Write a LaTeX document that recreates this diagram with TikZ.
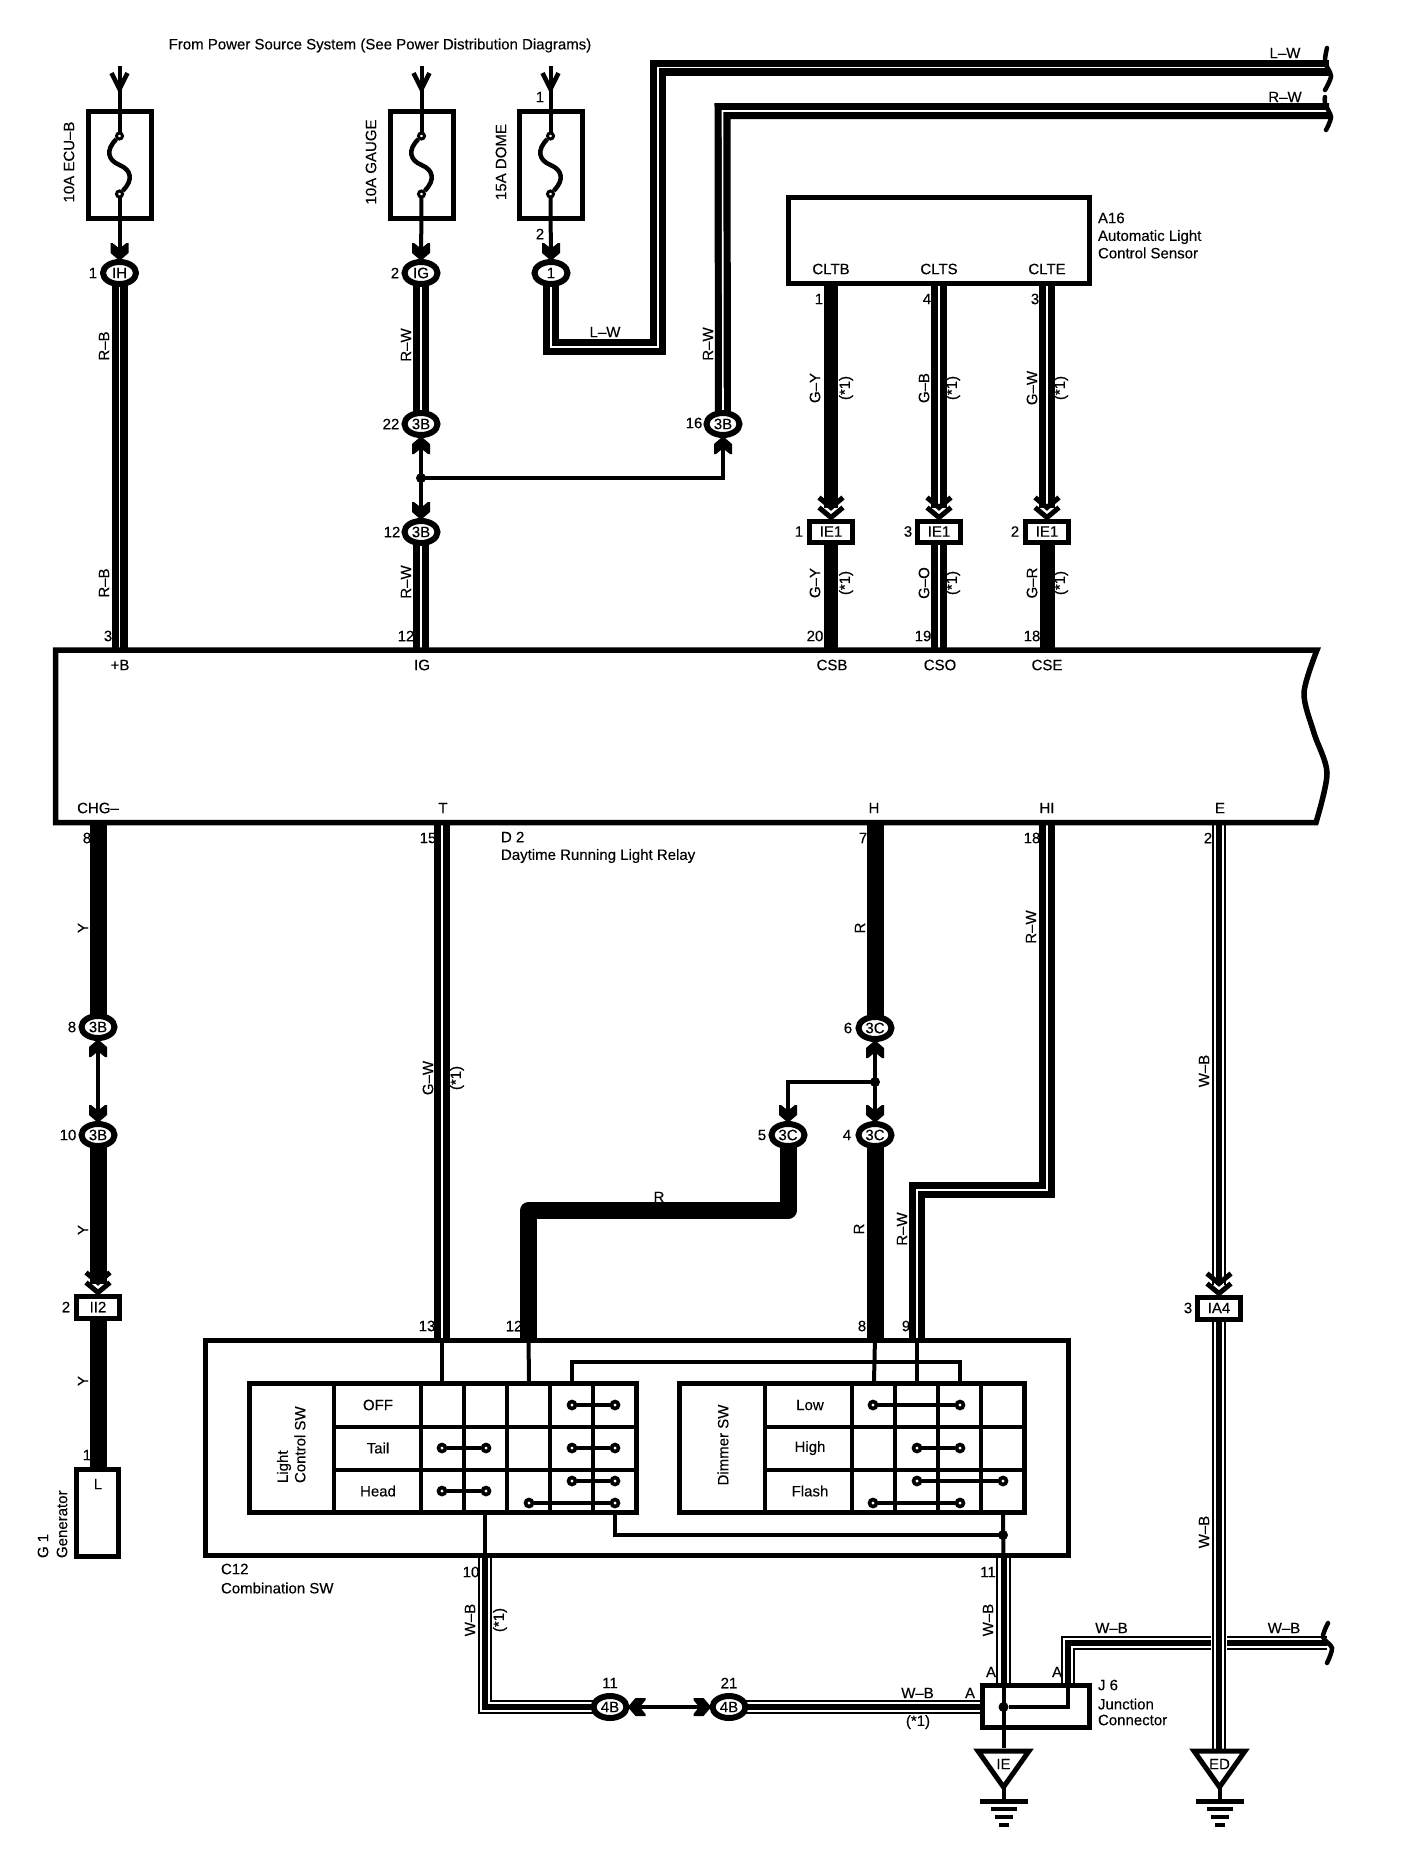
\documentclass[tikz,border=0pt]{standalone}
\usepackage{fontspec}
\setmainfont{Liberation Sans}[FakeBold=0.25]
\usetikzlibrary{shapes.geometric,backgrounds}
\newcommand\triw[1]{\draw[line width=14.5pt] #1; \draw[line width=10.5pt,white] #1; \draw[line width=6pt] #1;}
\tikzset{
  lbl/.style={font=\fontsize{15}{15}\selectfont,inner sep=0pt,outer sep=0pt,text=black},
  vlbl/.style={lbl,rotate=90},
  oval/.style={ellipse,draw,fill=white,line width=6pt,minimum width=33pt,minimum height=22pt,inner sep=0pt,font=\fontsize{15}{15}\selectfont},
  rectcon/.style={rectangle,draw,fill=white,line width=5pt,minimum width=43pt,minimum height=21pt,inner sep=0pt,font=\fontsize{15}{15}\selectfont},
  heavybox/.style={rectangle,draw,line width=5pt,inner sep=0pt},
  stripe/.style={line width=7.2pt,double=white,double distance=1.6pt,line join=miter},
  solidw/.style={line width=#1,line join=round},
  thinw/.style={line width=4pt},
  contact/.style={circle,draw,fill=white,line width=3.6pt,minimum size=7pt,inner sep=0pt},
  jdot/.style={circle,fill=black,minimum size=11pt,inner sep=0pt},
  blk/.pic={\fill (-9,-16)--(-7,-16)--(-2,-12)--(2,-12)--(7,-16)--(9,-16)--(9,-6)--(2,0)--(-2,0)--(-9,-6)--cycle;},
  chev/.pic={\draw[line width=5pt] (-12,-21)--(0,-11)--(12,-21) (-12,-11)--(0,-1)--(12,-11);},
  vhead/.pic={\draw[line width=4.5pt] (-8,-16)--(0,0)--(8,-16);},
  gnd/.pic={
    \draw[line width=5pt,line join=miter] (-25.5,3)--(25.5,3)--(0,39)--cycle;
    \draw[thinw] (0,39)--(0,53);
    \fill (-24,51) rectangle (24,56);
    \fill (-13,59) rectangle (13,63);
    \fill (-9,67) rectangle (9,71);
    \fill (-5,75) rectangle (5,79);
  },
  wbrace/.style={line width=4.5pt,line cap=round}
}
\begin{document}
\begin{tikzpicture}[x=1pt,y=-1pt]
\useasboundingbox (0,0) rectangle (1408,1856);

% ---------- relay box
\draw[line width=5.5pt,fill=white,line join=miter] (55.5,650) -- (1317,650)
   -- plot[smooth] coordinates {(1317,650) (1304,693) (1314,733) (1327,773) (1316,822.5)}
   -- (55.5,822.5) -- cycle;

% pins on the relay box
\coordinate (pB) at (119.5,650);  \coordinate (pIG) at (421,650);
\coordinate (pCSB) at (831,650);  \coordinate (pCSO) at (939,650); \coordinate (pCSE) at (1047,650);
\coordinate (pCHG) at (98,822.5); \coordinate (pT) at (442,822.5); \coordinate (pH) at (875,822.5);
\coordinate (pHI) at (1047,822.5);\coordinate (pE) at (1219,822.5);

% ---------- fuses
\node[heavybox,minimum width=63pt,minimum height=107pt] (fa) at (119.5,165) {};
\node[heavybox,minimum width=63pt,minimum height=107pt] (fb) at (421.5,165) {};
\node[heavybox,minimum width=63pt,minimum height=107pt] (fc) at (550.5,165) {};

% ---------- sensor, generator, combination switch, junction
\node[heavybox,minimum width=300.5pt,minimum height=86pt] (sens) at (938.75,240.5) {};
\node[heavybox,minimum width=42pt,minimum height=87pt] (gen) at (97.5,1513) {};
\node[heavybox,minimum width=863pt,minimum height=215pt] (comb) at (637,1448) {};
\node[heavybox,minimum width=107pt,minimum height=42pt] (jc) at (1035.5,1706.5) {};

% ---------- connectors
\node[oval] (cIH) at (119.5,273) {IH};
\node[oval] (cIG) at (421,273) {IG};
\node[oval] (cOne) at (551,273) {1};
\node[oval] (c22) at (421,424) {3B};
\node[oval] (c12) at (421,532) {3B};
\node[oval] (c16) at (723,424) {3B};
\node[rectcon] (cIEa) at (831,531.5) {IE1};
\node[rectcon] (cIEb) at (939,531.5) {IE1};
\node[rectcon] (cIEc) at (1047,531.5) {IE1};
\node[oval] (c8) at (98,1027) {3B};
\node[oval] (c10) at (98,1135) {3B};
\node[rectcon,minimum height=22pt] (cII) at (98,1307) {II2};
\node[oval] (c6) at (875,1028) {3C};
\node[oval] (c5) at (788,1135) {3C};
\node[oval] (c4) at (875,1135) {3C};
\node[oval] (c11) at (610,1707) {4B};
\node[oval] (c21) at (729,1707) {4B};
\node[rectcon,minimum height=22pt] (cIA) at (1219,1308) {IA4};

% bends and free ends
\coordinate (ta) at (119.5,66); \coordinate (tb) at (421.5,66); \coordinate (tc) at (550.5,66);
\coordinate (lwa) at (551,347); \coordinate (lwb) at (658,347); \coordinate (lwc) at (658,67.5); \coordinate (lwd) at (1329,67.5);
\coordinate (rwa) at (722.5,111); \coordinate (rwb) at (1329,111);
\coordinate (sa) at (831,286); \coordinate (sb) at (939,286); \coordinate (sc) at (1047,286);
\coordinate (ea) at (831,508); \coordinate (eb) at (939,508); \coordinate (ec) at (1047,508);
\coordinate (yend) at (98,1284); \coordinate (ygen) at (98,1470);
\coordinate (ra) at (788,1210.5); \coordinate (rb) at (528.5,1210.5); \coordinate (rc) at (528.5,1338);
\coordinate (r4) at (875,1338);
\coordinate (hia) at (1047,1190); \coordinate (hib) at (917,1190); \coordinate (hic) at (917,1338);
\coordinate (tc13) at (442,1338);
\coordinate (wa) at (485,1558); \coordinate (wb) at (485,1707); \coordinate (wc) at (1003.5,1558);
\coordinate (wd) at (1003.5,1683); \coordinate (we) at (982,1707);
\coordinate (xa) at (1068,1683); \coordinate (xb) at (1068,1643); \coordinate (xc) at (1211,1643);
\coordinate (xd) at (1227,1643); \coordinate (xe) at (1327,1643);
\coordinate (ia) at (1219,1285); \coordinate (ib) at (1219,1752);
\coordinate (ja) at (421,478); \coordinate (jb) at (875,1082);
\coordinate (jc1) at (723,478); \coordinate (jc2) at (788,1082);
\coordinate (ga) at (1003.5,1748); \coordinate (gb) at (1219.5,1748);

% ---------- wires behind the connectors
\begin{scope}[on background layer]
  \draw[stripe] (cIH.center) -- (pB);
  \draw[stripe] (cIG.center) -- (c22.center);
  \draw[stripe] (c12.center) -- (pIG);
  \draw[stripe] (cOne.center) -- (lwa) -- (lwb) -- (lwc) -- (lwd);
  \draw[stripe] (c16.center) -- (rwa) -- (rwb);
  \draw[solidw=14pt] (sa) -- (ea);
  \draw[stripe] (sb) -- (eb);
  \draw[stripe] (sc) -- (ec);
  \draw[solidw=14pt] (cIEa.center) -- (pCSB);
  \draw[stripe] (cIEb.center) -- (pCSO);
  \draw[solidw=15pt] (cIEc.center) -- (pCSE);
  \draw[solidw=17pt] (pCHG) -- (c8.center);
  \draw[solidw=17pt] (c10.center) -- (yend);
  \draw[solidw=17pt] (cII.center) -- (ygen);
  \draw[stripe] (pT) -- (tc13);
  \draw[solidw=17pt] (pH) -- (c6.center);
  \draw[solidw=17pt] (c4.center) -- (r4);
  \draw[solidw=17pt] (c5.center) -- (ra) -- (rb) -- (rc);
  \draw[stripe] (pHI) -- (hia) -- (hib) -- (hic);
  \triw{(pE) -- (ia)}
  \triw{(cIA.center) -- (ib)}
  \triw{(wa) -- (wb) -- (c11.center)}
  \triw{(c21.center) -- (we)}
  \triw{(wc) -- (wd)}
  \triw{(xa) -- (xb) -- (xc)}
  \triw{(xd) -- (xe)}
  % thin links
  \draw[thinw] (c8.center) -- (c10.center);
  \draw[thinw] (c22.center) -- (c12.center);
  \draw[thinw] (ja) -- (jc1) -- (c16.center);
  \draw[thinw] (c6.center) -- (c4.center);
  \draw[thinw] (jb) -- (jc2) -- (c5.center);
  \draw[thinw] (c11.center) -- (c21.center);
\end{scope}

% ---------- fuse elements
\foreach \n/\x/\c in {a/119.5/cIH,b/421.5/cIG,c/550.5/cOne}{
  \node[contact,minimum size=6pt,line width=3pt] (fu\n) at (\x,136) {};
  \node[contact,minimum size=6pt,line width=3pt] (fl\n) at (\x,194) {};
  \begin{scope}[on background layer]
    \draw[thinw] (t\n) -- (fu\n.center);
    \draw[thinw] (fl\n.center) -- (\c.center);
  \end{scope}
  \draw[line width=4.5pt] (fu\n.south west) .. controls (\x-14,150) and (\x-12,160) .. (\x,165)
       .. controls (\x+12,170) and (\x+14,180) .. (fl\n.north east);
  \pic at (\x,89) {vhead};
}
\pic at (cIH.north) {blk};
\pic at (cIG.north) {blk};
\pic at (cOne.north) {blk};
\pic[rotate=180] at (c22.south) {blk};
\pic at (c12.north) {blk};
\pic[rotate=180] at (c16.south) {blk};
\pic[rotate=180] at (c8.south) {blk};
\pic at (c10.north) {blk};
\pic[rotate=180] at (c6.south) {blk};
\pic at (c4.north) {blk};
\pic at (c5.north) {blk};
\pic[rotate=-90] at (c11.east) {blk};
\pic[rotate=90] at (c21.west) {blk};
\pic at (cIEa.north) {chev};
\pic at (cIEb.north) {chev};
\pic at (cIEc.north) {chev};
\pic at (cII.north) {chev};
\pic at (cIA.north) {chev};

\node[jdot,minimum size=10pt] (da) at (ja) {};
\node[jdot,minimum size=10pt] (db) at (jb) {};

% ---------- switch tables
\node[heavybox,minimum width=387pt,minimum height=129.5pt] (tl) at (442.5,1447.75) {};
\node[heavybox,minimum width=345pt,minimum height=129.5pt] (tr) at (852,1447.75) {};
\foreach \x in {334,421,464,507,550,593}{\draw[thinw] (\x,1383) -- (\x,1512.5);}
\draw[thinw] (334,1427) -- (636,1427);
\draw[thinw] (334,1470) -- (636,1470);
\foreach \x in {765,852,895,938,981}{\draw[thinw] (\x,1383) -- (\x,1512.5);}
\draw[thinw] (765,1427) -- (1024.5,1427);
\draw[thinw] (765,1470) -- (1024.5,1470);

% contacts
\foreach \n/\xa/\xb/\y in {k/572/615/1405,m/442/486/1448,n/572/615/1448,o/442/486/1491,q/572/615/1481,r/529/615/1503,
   s/873/960/1405,u/917/960/1448,v/917/1003/1481,w/873/960/1503}{
  \node[contact] (ct\n a) at (\xa,\y) {};
  \node[contact] (ct\n b) at (\xb,\y) {};
  \draw[thinw] (ct\n a) -- (ct\n b);
}

% links inside the combination switch
\coordinate (la) at (442,1381); \coordinate (lb) at (529,1381); \coordinate (lc) at (572,1381);
\coordinate (ld) at (572,1362); \coordinate (le) at (960,1362); \coordinate (lf) at (960,1381);
\coordinate (lg) at (874,1381); \coordinate (lh) at (917,1381);
\coordinate (li) at (485,1515); \coordinate (lj) at (615,1515); \coordinate (lk) at (615,1535);
\coordinate (ll) at (1003,1535); \coordinate (lm) at (1003,1515);
\draw[thinw] (tc13) -- (la);
\draw[thinw] (rc) -- (lb);
\draw[thinw] (r4) -- (lg);
\draw[thinw] (hic) -- (lh);
\draw[thinw] (lc) -- (ld) -- (le) -- (lf);
\draw[thinw] (li) -- (wa);
\draw[thinw] (lj) -- (lk) -- (ll);
\draw[thinw] (lm) -- (wc);
\node[jdot,minimum size=10pt] (dc) at (ll) {};

% junction connector inside
\draw[thinw] (wd) -- (ga);
\node[jdot,minimum size=10pt] (dd) at (1003.5,1707) {};
\draw[thinw] (dd) -- (1068,1707) -- (xa);

% grounds
\pic at (ga) {gnd};
\pic at (gb) {gnd};
\node[lbl] (nIE) at (1003.5,1764) {IE};
\node[lbl] (nED) at (1219.5,1764) {ED};

% break symbols
\draw[wbrace] plot[smooth] coordinates {(1327,48) (1325,62) (1331,76) (1325,90)};
\draw[wbrace] plot[smooth] coordinates {(1325,97) (1325,104) (1331,117) (1326,130)};
\draw[wbrace] plot[smooth] coordinates {(1328,1623) (1323,1637) (1332,1648) (1327,1663)};

% ---------- texts
\node[lbl] (title) at (380,45.5) {From Power Source System (See Power Distribution Diagrams)};
\node[vlbl] (ta1) at (69,162) {10A ECU–B};
\node[vlbl] (ta2) at (371,162) {10A GAUGE};
\node[vlbl] (ta3) at (501,162) {15A DOME};
\node[lbl] (n01) at (540,97) {1};
\node[lbl] (n02) at (540,234) {2};
\node[lbl] (n03) at (93,273) {1};
\node[lbl] (n04) at (395,273) {2};
\node[lbl] (n05) at (391,424) {22};
\node[lbl] (n06) at (392,532) {12};
\node[lbl] (n07) at (694,423) {16};
\node[vlbl] (w01) at (104,346) {R–B};
\node[vlbl] (w02) at (104,583) {R–B};
\node[vlbl] (w03) at (406,345) {R–W};
\node[vlbl] (w04) at (406,582) {R–W};
\node[vlbl] (w05) at (708,344) {R–W};
\node[lbl] (w06) at (605,332) {L–W};
\node[lbl] (w07) at (1285,53) {L–W};
\node[lbl] (w08) at (1285,97) {R–W};
\node[lbl] (s01) at (831,269) {CLTB};
\node[lbl] (s02) at (939,269) {CLTS};
\node[lbl] (s03) at (1047,269) {CLTE};
\node[lbl,anchor=west] (s04) at (1098,218) {A16};
\node[lbl,anchor=west] (s05) at (1098,237) {Automatic Light};
\node[lbl,anchor=west] (s06) at (1098,253) {Control Sensor};
\node[lbl] (n08) at (819,299) {1};
\node[lbl] (n09) at (927,299) {4};
\node[lbl] (n10) at (1035,299) {3};
\node[vlbl] (g01) at (815,388) {G–Y};
\node[vlbl] (g02) at (846,388) {(*1)};
\node[vlbl] (g03) at (924,388) {G–B};
\node[vlbl] (g04) at (953,388) {(*1)};
\node[vlbl] (g05) at (1032,388) {G–W};
\node[vlbl] (g06) at (1061,388) {(*1)};
\node[lbl] (n11) at (799,531.5) {1};
\node[lbl] (n12) at (908,531.5) {3};
\node[lbl] (n13) at (1015,531.5) {2};
\node[vlbl] (g07) at (815,583) {G–Y};
\node[vlbl] (g08) at (846,583) {(*1)};
\node[vlbl] (g09) at (924,583) {G–O};
\node[vlbl] (g10) at (953,583) {(*1)};
\node[vlbl] (g11) at (1032,583) {G–R};
\node[vlbl] (g12) at (1061,583) {(*1)};
\node[lbl] (n14) at (108,636) {3};
\node[lbl] (n15) at (406,636) {12};
\node[lbl] (n16) at (815,636) {20};
\node[lbl] (n17) at (923,636) {19};
\node[lbl] (n18) at (1032,636) {18};
\node[lbl] (r01) at (120,665) {+B};
\node[lbl] (r02) at (422,665) {IG};
\node[lbl] (r03) at (832,665) {CSB};
\node[lbl] (r04) at (940,665) {CSO};
\node[lbl] (r05) at (1047,665) {CSE};
\node[lbl] (r06) at (98,808) {CHG–};
\node[lbl] (r07) at (443,808) {T};
\node[lbl] (r08) at (874,808) {H};
\node[lbl] (r09) at (1047,808) {HI};
\node[lbl] (r10) at (1220,808) {E};
\node[lbl] (n19) at (87,838) {8};
\node[lbl] (n20) at (428,838) {15};
\node[lbl] (n21) at (863,838) {7};
\node[lbl] (n22) at (1032,838) {18};
\node[lbl] (n23) at (1208,838) {2};
\node[lbl,anchor=west] (r11) at (501,837) {D 2};
\node[lbl,anchor=west] (r12) at (501,856) {Daytime Running Light Relay};
\node[vlbl] (y01) at (83,928) {Y};
\node[vlbl] (y02) at (83,1230) {Y};
\node[vlbl] (y03) at (83,1381) {Y};
\node[vlbl] (y04) at (860,928) {R};
\node[vlbl] (y05) at (859,1229) {R};
\node[vlbl] (y06) at (1031,927) {R–W};
\node[vlbl] (y07) at (902,1229) {R–W};
\node[lbl] (y08) at (659,1197) {R};
\node[vlbl] (y09) at (428,1078) {G–W};
\node[vlbl] (y10) at (457,1078) {(*1)};
\node[vlbl] (y11) at (1204,1071) {W–B};
\node[vlbl] (y12) at (1204,1532) {W–B};
\node[lbl] (n24) at (72,1027) {8};
\node[lbl] (n25) at (68,1135) {10};
\node[lbl] (n26) at (66,1307) {2};
\node[lbl] (n27) at (848,1028) {6};
\node[lbl] (n28) at (762,1135) {5};
\node[lbl] (n29) at (847,1135) {4};
\node[lbl] (n30) at (1188,1308) {3};
\node[lbl] (n31) at (87,1455) {1};
\node[lbl] (gl) at (98,1484) {L};
\node[vlbl,anchor=west] (g1) at (43,1558) {G 1};
\node[vlbl,anchor=west] (g2) at (62,1558) {Generator};
\node[lbl] (n32) at (427,1326) {13};
\node[lbl] (n33) at (514,1326) {12};
\node[lbl] (n34) at (862,1326) {8};
\node[lbl] (n35) at (906,1326) {9};
\node[vlbl,anchor=west] (c1) at (284,1483) {Light};
\node[vlbl,anchor=west] (c2) at (300,1483) {Control SW};
\node[lbl] (c3) at (378,1405) {OFF};
\node[lbl] (c4t) at (378,1448) {Tail};
\node[lbl] (c5t) at (378,1491) {Head};
\node[vlbl] (c6t) at (723,1445) {Dimmer SW};
\node[lbl] (c7) at (810,1405) {Low};
\node[lbl] (c8t) at (810,1448) {High};
\node[lbl] (c9) at (810,1491) {Flash};
\node[lbl,anchor=west] (c10t) at (221,1569) {C12};
\node[lbl,anchor=west] (c11t) at (221,1588) {Combination SW};
\node[lbl] (n36) at (471,1572) {10};
\node[lbl] (n37) at (988,1572) {11};
\node[vlbl] (b1) at (470,1620) {W–B};
\node[vlbl] (b2) at (500,1620) {(*1)};
\node[vlbl] (b3) at (988,1620) {W–B};
\node[lbl] (b4) at (610,1683) {11};
\node[lbl] (b5) at (729,1683) {21};
\node[lbl] (b6) at (917.5,1693) {W–B};
\node[lbl] (b7) at (918,1722) {(*1)};
\node[lbl] (b8) at (991,1672) {A};
\node[lbl] (b9) at (1057,1672) {A};
\node[lbl] (b10) at (970,1693) {A};
\node[lbl] (b11) at (1111.5,1628) {W–B};
\node[lbl] (b12) at (1284,1628) {W–B};
\node[lbl,anchor=west] (b13) at (1098,1685) {J 6};
\node[lbl,anchor=west] (b14) at (1098,1704) {Junction};
\node[lbl,anchor=west] (b15) at (1098,1720) {Connector};
\end{tikzpicture}
\end{document}
